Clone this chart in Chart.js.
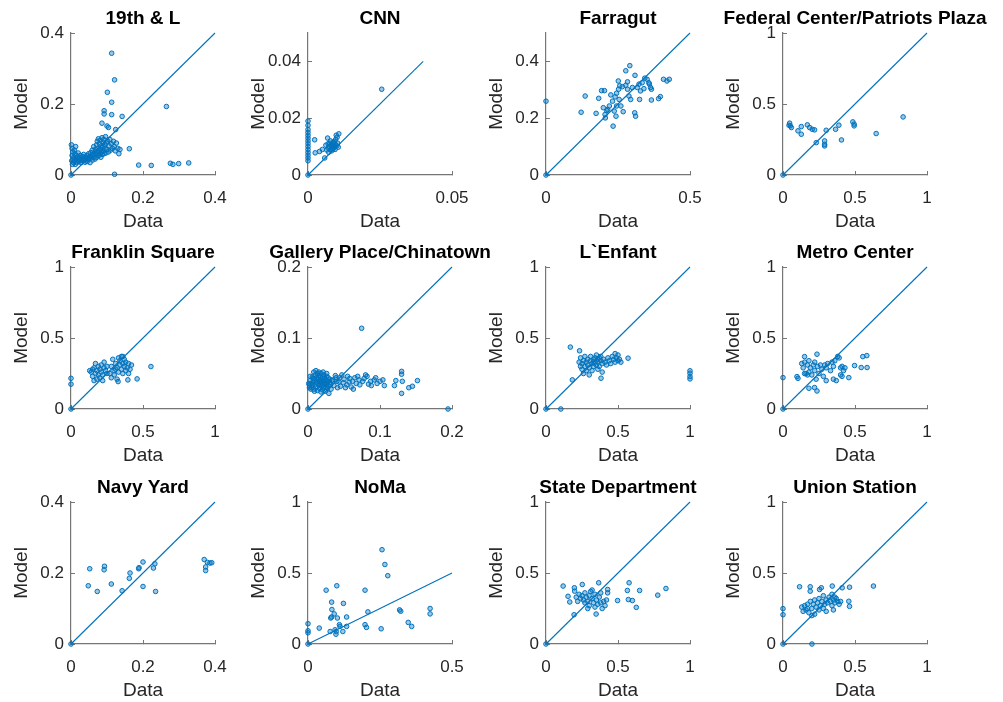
<!DOCTYPE html>
<html>
<head>
<meta charset="utf-8">
<script src="https://cdn.jsdelivr.net/npm/chart.js@4.4.1/dist/chart.umd.min.js"></script>
<style>
  html, body { margin: 0; padding: 0; background: #fff; overflow: hidden; }
  #fig { position: relative; width: 1003px; height: 702px; }
  #fig canvas { position: absolute; }
</style>
</head>
<body>
<div id="fig"></div>
<script>
// station names, one panel each (row by row)
const stations = ['19th & L', 'CNN', 'Farragut', 'Federal Center/Patriots Plaza',
  'Franklin Square', 'Gallery Place/Chinatown', 'L`Enfant', 'Metro Center',
  'Navy Yard', 'NoMa', 'State Department', 'Union Station'];

// axis limits and tick steps per panel
const xMax  = [0.4, 0.05, 0.5, 1, 1, 0.2, 1, 1, 0.4, 0.5, 1, 1];
const yMax  = [0.4, 0.05, 0.5, 1, 1, 0.2, 1, 1, 0.4, 1, 1, 1];
const xStep = [0.2, 0.05, 0.5, 0.5, 0.5, 0.1, 0.5, 0.5, 0.2, 0.5, 0.5, 0.5];
const yStep = [0.2, 0.02, 0.2, 0.5, 0.5, 0.1, 0.5, 0.5, 0.2, 0.5, 0.5, 0.5];
// end of the y = x reference line
const lineEnd = [0.4, 0.04, 0.5, 1, 1, 0.2, 1, 1, 0.4, 0.5, 1, 1];

// [data, model] pairs
const pts19thL = [[0,0],[0.113,0.343],[0.121,0.268],[0.101,0.233],[0.113,0.205],[0.092,0.181],[0.092,0.172],
  [0.113,0.170],[0.142,0.165],[0.086,0.146],[0.100,0.138],[0.104,0.134],[0.124,0.128],[0.265,0.193],
  [0.162,0.074],[0.188,0.028],[0.223,0.027],[0.276,0.033],[0.283,0.030],[0.299,0.032],[0.327,0.034],[0.121,0.002],
  [0.001,0.085],[0.003,0.075],[0.002,0.040],[0.003,0.055],[0.004,0.030],[0.005,0.065],[0.006,0.045],[0.007,0.035],
  [0.008,0.050],[0.009,0.070],[0.010,0.040],[0.011,0.060],[0.012,0.030],[0.013,0.080],[0.014,0.045],[0.015,0.055],
  [0.016,0.035],[0.018,0.050],[0.019,0.042],[0.020,0.062],[0.021,0.038],[0.023,0.048],[0.025,0.040],[0.026,0.055],
  [0.028,0.035],[0.030,0.045],[0.032,0.052],[0.034,0.040],[0.035,0.058],[0.037,0.047],[0.039,0.036],[0.040,0.050],
  [0.042,0.043],[0.044,0.055],[0.045,0.038],[0.047,0.048],[0.049,0.060],[0.050,0.045],[0.052,0.052],[0.053,0.035],
  [0.055,0.063],[0.056,0.048],[0.058,0.055],[0.059,0.070],[0.060,0.042],[0.062,0.058],[0.063,0.080],[0.064,0.050],
  [0.066,0.065],[0.067,0.045],[0.068,0.072],[0.070,0.058],[0.071,0.085],[0.072,0.050],[0.073,0.095],[0.074,0.062],
  [0.075,0.075],[0.076,0.102],[0.077,0.055],[0.078,0.068],[0.079,0.088],[0.080,0.060],[0.081,0.098],[0.082,0.072],
  [0.083,0.050],[0.084,0.082],[0.085,0.065],[0.086,0.105],[0.087,0.058],[0.088,0.078],[0.089,0.092],[0.090,0.068],
  [0.091,0.100],[0.092,0.060],[0.093,0.085],[0.095,0.075],[0.096,0.108],[0.097,0.062],[0.098,0.090],[0.100,0.072],
  [0.102,0.095],[0.104,0.065],[0.106,0.082],[0.108,0.100],[0.110,0.070],[0.112,0.088],[0.115,0.075],[0.118,0.095],
  [0.120,0.080],[0.123,0.068],[0.126,0.090],[0.130,0.075],[0.133,0.060],[0.136,0.072]];

const ptsCNN = [[0,0],[0.0256,0.0302],[0,0.019],[0,0.0175],[0,0.016],[0,0.015],[0,0.014],[0,0.013],[0,0.012],
  [0,0.011],[0,0.010],[0,0.009],[0,0.008],[0,0.007],[0,0.006],[0,0.005],
  [0.0023,0.0124],[0.0040,0.0083],[0.0025,0.0078],[0.0050,0.0090],[0.0058,0.0060],[0.0062,0.0105],[0.0065,0.0088],
  [0.0068,0.0130],[0.0070,0.0095],[0.0072,0.0080],[0.0074,0.0100],[0.0076,0.0112],[0.0078,0.0090],[0.0080,0.0105],
  [0.0082,0.0085],[0.0083,0.0098],[0.0085,0.0110],[0.0086,0.0092],[0.0088,0.0102],[0.0090,0.0095],[0.0091,0.0118],
  [0.0093,0.0100],[0.0095,0.0108],[0.0096,0.0125],[0.0098,0.0140],[0.0100,0.0103],[0.0101,0.0133],[0.0103,0.0112],
  [0.0105,0.0098],[0.0107,0.0145],[0.0078,0.0120],[0.0070,0.0110],[0.0088,0.0115],[0.0094,0.0090]];

const ptsFarragut = [[0,0],[0,0.260],[0.122,0.221],[0.136,0.278],[0.183,0.270],[0.193,0.297],[0.203,0.297],
  [0.174,0.217],[0.205,0.213],[0.206,0.201],[0.211,0.227],[0.233,0.172],[0.225,0.282],[0.220,0.243],[0.231,0.260],
  [0.237,0.225],[0.243,0.207],[0.245,0.243],[0.254,0.266],[0.252,0.302],[0.251,0.331],[0.268,0.223],[0.260,0.243],
  [0.277,0.367],[0.291,0.385],[0.283,0.302],[0.288,0.278],[0.294,0.266],[0.300,0.308],[0.308,0.219],[0.311,0.207],
  [0.309,0.351],[0.317,0.308],[0.323,0.320],[0.328,0.296],[0.334,0.325],[0.340,0.304],[0.325,0.266],[0.343,0.341],
  [0.351,0.337],[0.357,0.325],[0.359,0.320],[0.363,0.308],[0.366,0.302],[0.366,0.264],[0.391,0.269],[0.397,0.276],
  [0.408,0.337],[0.420,0.331],[0.428,0.337],[0.256,0.314],[0.265,0.311],[0.277,0.316],[0.283,0.328],[0.240,0.275],
  [0.245,0.288],[0.199,0.237],[0.214,0.231]];

const ptsFederal = [[0,0],[0.046,0.365],[0.051,0.346],[0.058,0.334],[0.042,0.350],[0.104,0.311],[0.127,0.341],
  [0.127,0.287],[0.169,0.353],[0.185,0.334],[0.203,0.322],[0.219,0.318],[0.231,0.228],[0.289,0.240],[0.289,0.216],
  [0.289,0.205],[0.300,0.315],[0.365,0.322],[0.388,0.351],[0.406,0.247],[0.485,0.374],[0.494,0.358],[0.494,0.346],
  [0.647,0.292],[0.834,0.409]];

const ptsFranklin = [[0,0],[0,0.216],[0,0.175],[0.555,0.299],[0.459,0.212],[0.327,0.193],[0.395,0.205],
  [0.14,0.26],[0.15,0.23],[0.16,0.29],[0.17,0.32],[0.17,0.25],[0.18,0.21],[0.18,0.27],[0.19,0.24],[0.19,0.30],
  [0.20,0.22],[0.20,0.28],[0.21,0.26],[0.21,0.31],[0.22,0.24],[0.22,0.20],[0.23,0.29],[0.23,0.33],[0.24,0.27],
  [0.25,0.25],[0.25,0.30],[0.16,0.20],[0.15,0.28],[0.13,0.27],
  [0.27,0.25],[0.28,0.22],[0.28,0.30],[0.29,0.35],[0.30,0.27],[0.30,0.24],[0.31,0.32],[0.32,0.29],[0.32,0.21],
  [0.33,0.36],[0.33,0.26],[0.34,0.31],[0.34,0.34],[0.35,0.28],[0.35,0.37],[0.36,0.25],[0.36,0.32],[0.37,0.30],
  [0.37,0.35],[0.38,0.27],[0.38,0.33],[0.39,0.29],[0.40,0.25],[0.40,0.32],[0.41,0.28],[0.42,0.31],[0.36,0.37],[0.31,0.28]];

const ptsGallery = [[0,0],[0.0745,0.1137],[0.1945,0],[0.130,0.053],[0.130,0.049],[0.131,0.039],[0.130,0.022],
  [0.140,0.030],[0.145,0.032],[0.152,0.040],[0.122,0.040],[0.120,0.033],
  [0.104,0.041],[0.106,0.033],[0.100,0.039],[0.096,0.036],[0.092,0.041],[0.087,0.039],[0.082,0.046],[0.080,0.048],
  [0.076,0.039],[0.071,0.041],[0.067,0.036],[0.062,0.039],[0.058,0.043],[0.054,0.034],[0.049,0.037],[0.045,0.032],
  [0.040,0.039],[0.065,0.044],[0.060,0.031],[0.055,0.046],[0.050,0.042],[0.047,0.048],[0.044,0.044],[0.038,0.047],
  [0.036,0.033],[0.034,0.041],[0.072,0.034],[0.088,0.033],[0.094,0.044],[0.084,0.035],[0.078,0.043],[0.069,0.046],
  [0.063,0.028],[0.057,0.038],[0.043,0.038],[0.041,0.030],[0.039,0.044],[0.052,0.030],
  [0.002,0.033],[0.003,0.040],[0.004,0.036],[0.005,0.030],[0.006,0.045],[0.007,0.038],[0.008,0.052],[0.008,0.028],
  [0.009,0.042],[0.010,0.035],[0.010,0.048],[0.011,0.031],[0.012,0.044],[0.012,0.038],[0.013,0.050],[0.013,0.026],
  [0.014,0.036],[0.014,0.042],[0.015,0.033],[0.015,0.047],[0.016,0.039],[0.016,0.029],[0.017,0.044],[0.017,0.035],
  [0.018,0.041],[0.018,0.050],[0.019,0.032],[0.019,0.037],[0.020,0.045],[0.020,0.027],[0.021,0.040],[0.021,0.034],
  [0.022,0.048],[0.022,0.030],[0.023,0.038],[0.023,0.043],[0.024,0.035],[0.024,0.025],[0.025,0.041],[0.025,0.031],
  [0.026,0.046],[0.026,0.036],[0.027,0.029],[0.027,0.039],[0.028,0.033],[0.028,0.044],[0.029,0.022],[0.030,0.037],
  [0.030,0.042],[0.031,0.034],[0.032,0.028],[0.033,0.040],[0.011,0.054],[0.009,0.025],[0.006,0.034],[0.004,0.028],
  [0.003,0.046],[0.001,0.036],[0.002,0.030],[0.007,0.043],[0.015,0.052],[0.018,0.024],[0.026,0.050],[0.021,0.052]];

const ptsLEnfant = [[0,0],[0.103,0],[0.169,0.436],[0.233,0.410],[0.183,0.205],[1.0,0.269],[1.0,0.252],
  [1.0,0.229],[1.0,0.212],[0.570,0.358],[0.382,0.217],
  [0.23,0.33],[0.24,0.30],[0.24,0.36],[0.25,0.28],[0.25,0.32],[0.26,0.34],[0.26,0.25],[0.27,0.30],[0.27,0.37],
  [0.28,0.33],[0.28,0.27],[0.29,0.35],[0.29,0.31],[0.30,0.29],[0.30,0.24],[0.31,0.34],[0.31,0.37],[0.32,0.32],
  [0.32,0.27],[0.33,0.35],[0.33,0.30],[0.34,0.36],[0.34,0.33],[0.35,0.31],[0.35,0.38],[0.36,0.35],[0.36,0.33],
  [0.37,0.36],[0.37,0.30],[0.38,0.34],[0.38,0.37],[0.39,0.32],[0.40,0.35],[0.41,0.33],[0.42,0.31],[0.43,0.36],
  [0.44,0.34],[0.45,0.32],[0.46,0.37],[0.47,0.35],[0.48,0.39],[0.48,0.33],[0.49,0.36],[0.50,0.34],[0.50,0.38],
  [0.51,0.35],[0.52,0.33],[0.36,0.28],[0.39,0.26]];

const ptsMetro = [[0,0],[0,0.221],[0.150,0.369],[0.236,0.386],[0.097,0.228],[0.104,0.216],[0.180,0.146],
  [0.219,0.151],[0.236,0.127],[0.554,0.369],[0.582,0.376],[0.543,0.292],[0.584,0.292],[0.497,0.306],[0.457,0.221],
  [0.13,0.32],[0.14,0.29],[0.15,0.33],[0.16,0.25],[0.17,0.31],[0.18,0.26],[0.18,0.34],[0.19,0.29],[0.20,0.24],
  [0.21,0.31],[0.22,0.27],[0.23,0.21],[0.24,0.30],[0.25,0.25],[0.26,0.31],[0.27,0.28],[0.28,0.23],[0.29,0.31],
  [0.30,0.29],[0.30,0.20],[0.31,0.32],[0.33,0.27],[0.34,0.33],[0.35,0.30],[0.35,0.21],[0.36,0.34],[0.37,0.20],
  [0.38,0.37],[0.39,0.36],[0.40,0.29],[0.40,0.24],[0.41,0.30],[0.42,0.27],[0.43,0.29],[0.41,0.23],[0.15,0.25],
  [0.17,0.24],[0.22,0.33]];

const ptsNavy = [[0,0],[0.052,0.212],[0.048,0.164],[0.073,0.148],[0.093,0.219],[0.092,0.209],[0.112,0.169],
  [0.142,0.150],[0.164,0.200],[0.162,0.185],[0.188,0.212],[0.189,0.215],[0.200,0.231],[0.200,0.162],[0.229,0.214],
  [0.233,0.226],[0.235,0.148],[0.370,0.238],[0.374,0.217],[0.374,0.207],[0.379,0.230],[0.386,0.228],[0.391,0.229]];

const ptsNoMa = [[0,0],[0,0.143],[0,0.093],[0,0.079],[0.039,0.112],[0.063,0.379],[0.077,0.088],[0.082,0.295],
  [0.083,0.243],[0.082,0.190],[0.079,0.183],[0.091,0.212],[0.094,0.100],[0.097,0.069],[0.098,0.088],[0.100,0.410],
  [0.102,0.183],[0.109,0.136],[0.111,0.124],[0.121,0.088],[0.123,0.286],[0.134,0.190],[0.134,0.124],[0.198,0.379],
  [0.198,0.136],[0.203,0.117],[0.208,0.226],[0.254,0.107],[0.257,0.664],[0.267,0.560],[0.277,0.481],[0.318,0.240],
  [0.322,0.231],[0.348,0.152],[0.360,0.124],[0.424,0.250],[0.424,0.212]];

const ptsState = [[0,0],[0.119,0.408],[0.195,0.206],[0.366,0.431],[0.348,0.211],[0.153,0.336],[0.165,0.296],
  [0.197,0.396],[0.199,0.372],[0.252,0.419],[0.497,0.306],[0.565,0.377],[0.577,0.431],[0.572,0.313],[0.600,0.306],
  [0.627,0.258],[0.650,0.377],[0.776,0.344],[0.833,0.391],[0.428,0.384],[0.428,0.360],
  [0.21,0.33],[0.22,0.30],[0.23,0.35],[0.24,0.32],[0.25,0.34],[0.26,0.31],[0.27,0.29],[0.27,0.36],[0.28,0.33],
  [0.29,0.30],[0.30,0.34],[0.30,0.27],[0.31,0.37],[0.32,0.32],[0.33,0.29],[0.34,0.35],[0.34,0.26],[0.35,0.31],
  [0.36,0.28],[0.37,0.33],[0.38,0.29],[0.39,0.25],[0.40,0.30],[0.41,0.27],[0.42,0.31],[0.38,0.36],[0.32,0.38],[0.29,0.25]];

const ptsUnion = [[0,0],[0,0.249],[0,0.206],[0.201,0],[0.115,0.403],[0.628,0.408],[0.462,0.400],[0.411,0.396],
  [0.457,0.301],[0.462,0.265],[0.189,0.403],[0.189,0.372],[0.266,0.396],[0.254,0.384],[0.342,0.408],
  [0.13,0.26],[0.14,0.23],[0.15,0.27],[0.16,0.24],[0.17,0.28],[0.18,0.22],[0.19,0.30],[0.20,0.25],[0.21,0.28],
  [0.22,0.21],[0.22,0.31],[0.23,0.26],[0.24,0.29],[0.25,0.24],[0.25,0.32],[0.26,0.27],[0.27,0.30],[0.28,0.25],
  [0.28,0.34],[0.29,0.28],[0.30,0.31],[0.30,0.23],[0.31,0.29],[0.32,0.33],[0.33,0.30],[0.34,0.27],[0.34,0.35],
  [0.35,0.31],[0.36,0.33],[0.36,0.29],[0.37,0.32],[0.38,0.30],[0.39,0.28],[0.40,0.30],[0.35,0.24],[0.17,0.25],[0.20,0.20]];

const allPoints = [pts19thL, ptsCNN, ptsFarragut, ptsFederal, ptsFranklin, ptsGallery,
  ptsLEnfant, ptsMetro, ptsNavy, ptsNoMa, ptsState, ptsUnion];

const blue = '#0072BD';
const axisColor = '#767676';
const textColor = '#262626';
Chart.defaults.font.family = "'Liberation Sans', Arial, Helvetica, sans-serif";
Chart.defaults.color = textColor;

// panel geometry: axes origin in page pixels
const colLeft = [71, 308, 546, 783];
const rowTop = [33, 267, 502];
const W = 284, H = 233, padL = 70, padT = 33;

function fmt(v) {
  return String(+v.toFixed(4));
}

function makePanel(i) {
  const canvas = document.createElement('canvas');
  canvas.width = W;
  canvas.height = H;
  canvas.style.left = (colLeft[i % 4] - padL) + 'px';
  canvas.style.top = (rowTop[Math.floor(i / 4)] - padT) + 'px';
  document.getElementById('fig').appendChild(canvas);

  const pts = allPoints[i].map(p => ({x: p[0], y: p[1]}));

  new Chart(canvas, {
    type: 'scatter',
    data: {
      datasets: [{
        data: pts,
        pointStyle: 'circle',
        pointRadius: 2.3,
        pointBorderWidth: 1,
        borderColor: blue,
        backgroundColor: 'rgba(0,114,189,0.4)',
        clip: false
      }, {
        type: 'line',
        data: [{x: 0, y: 0}, {x: lineEnd[i], y: lineEnd[i]}],
        borderColor: blue,
        borderWidth: 1.1,
        pointRadius: 0,
        fill: false,
        clip: false
      }]
    },
    options: {
      responsive: false,
      animation: false,
      devicePixelRatio: 1,
      layout: { padding: 0 },
      plugins: {
        legend: { display: false },
        tooltip: { enabled: false },
        title: {
          display: true,
          text: stations[i],
          color: '#000',
          font: { size: 19, weight: 'bold', lineHeight: 1.2 },
          padding: { top: 7, bottom: 3.2 }
        }
      },
      scales: {
        x: {
          type: 'linear',
          min: 0,
          max: xMax[i],
          border: { display: true, color: axisColor, width: 1.2 },
          grid: { display: true, drawOnChartArea: false, drawTicks: true, tickLength: -4, color: axisColor },
          ticks: {
            stepSize: xStep[i],
            includeBounds: false,
            maxRotation: 0,
            autoSkip: false,
            padding: 17,
            color: textColor,
            font: { size: 17 },
            callback: v => fmt(v)
          },
          title: { display: true, text: 'Data', color: textColor, font: { size: 19 }, padding: { top: 0, bottom: 0 } },
          afterFit: s => { s.height = H - padT - 142; }
        },
        y: {
          type: 'linear',
          min: 0,
          max: yMax[i],
          border: { display: true, color: axisColor, width: 1.2 },
          grid: { display: true, drawOnChartArea: false, drawTicks: true, tickLength: -4, color: axisColor },
          ticks: {
            stepSize: yStep[i],
            includeBounds: false,
            padding: 11,
            color: textColor,
            font: { size: 17 },
            callback: v => fmt(v)
          },
          title: { display: true, text: 'Model', color: textColor, font: { size: 19 }, padding: { top: 9, bottom: 0 } },
          afterFit: s => { s.width = padL; }
        },
        // empty right-hand spacer so the axes sit centred under the title
        spacer: {
          type: 'linear',
          position: 'right',
          display: true,
          grid: { display: false },
          border: { display: false },
          ticks: { display: false },
          afterFit: s => { s.width = W - padL - 144; }
        }
      }
    }
  });
}

for (let i = 0; i < stations.length; i++) makePanel(i);
</script>
</body>
</html>
